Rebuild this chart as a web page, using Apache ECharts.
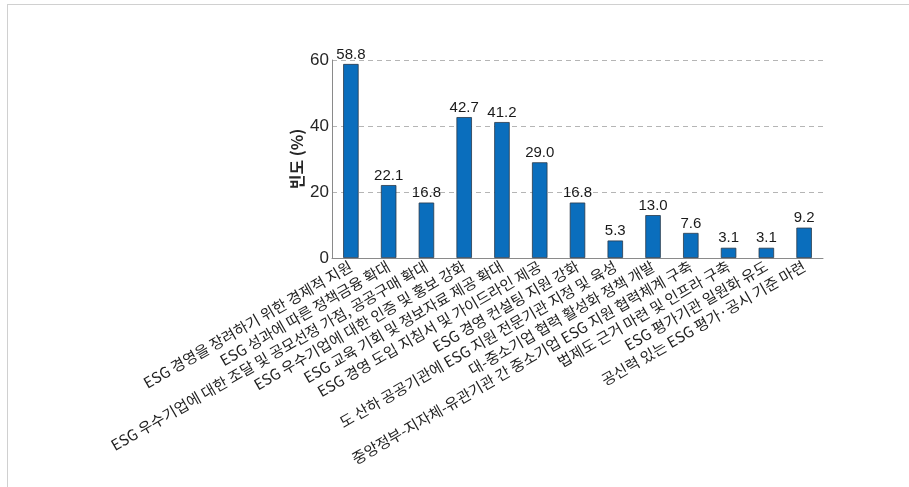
<!DOCTYPE html>
<html><head><meta charset="utf-8">
<script src="https://cdn.jsdelivr.net/npm/echarts@6/dist/echarts.min.js"></script>
<style>html,body{margin:0;padding:0;background:#fff}#c{width:909px;height:487px}</style>
</head><body><div id="c"></div>
<script>
const categories = [
  'ESG 경영을 장려하기 위한 경제적 지원',
  'ESG 성과에 따른 정책금융 확대',
  'ESG 우수기업에 대한 조달 및 공모선정 가점, 공공구매 확대',
  'ESG 우수기업에 대한 인증 및 홍보 강화',
  'ESG 교육 기회 및 정보자료 제공 확대',
  'ESG 경영 도입 지침서 및 가이드라인 제공',
  'ESG 경영 컨설팅 지원 강화',
  '도 산하 공공기관에 ESG 지원 전문기관 지정 및 육성',
  '대-중소기업 협력 활성화 정책 개발',
  '중앙정부-지자체-유관기관 간 중소기업 ESG 지원 협력체계 구축',
  '법제도 근거 마련 및 인프라 구축',
  'ESG 평가기관 일원화 유도',
  '공신력 있는 ESG 평가·공시 기준 마련'
];
const values = [58.8, 22.1, 16.8, 42.7, 41.2, 29.0, 16.8, 5.3, 13.0, 7.6, 3.1, 3.1, 9.2];
const yTicks = [0, 20, 40, 60];

const chart = echarts.init(document.getElementById('c'));
chart.setOption({
  animation: false,
  graphic: [
    {type:'line', shape:{x1:7,y1:4.5,x2:909,y2:4.5}, style:{stroke:'#d0d0d0', lineWidth:1}},
    {type:'line', shape:{x1:7.5,y1:4,x2:7.5,y2:487}, style:{stroke:'#d0d0d0', lineWidth:1}}
  ],
  grid: {left: 332, right: 86, top: 60, bottom: 229, containLabel: false},
  xAxis: {
    type: 'category',
    data: categories,
    axisLine: {lineStyle: {color: '#8a8a8a', width: 1}},
    axisTick: {show: false},
    axisLabel: {
      interval: 0, rotate: 30, margin: 7,
      fontFamily: 'Noto Sans CJK KR', fontSize: 15, color: '#1f1f1f'
    }
  },
  yAxis: {
    type: 'value', min: yTicks[0], max: yTicks[yTicks.length-1], interval: 20,
    name: '빈도 (%)', nameLocation: 'middle', nameGap: 27, nameMoveOverlap: false,
    nameTextStyle: {fontFamily: 'Noto Sans CJK KR', fontSize: 16, fontWeight: 'bold', color: '#262626'},
    axisLine: {show: true, lineStyle: {color: '#8a8a8a', width: 1}},
    axisTick: {show: false},
    axisLabel: {fontFamily: 'Liberation Sans', fontSize: 17, color: '#262626', margin: 3},
    splitLine: {show: true, lineStyle: {type: [5, 4], color: '#b5b5b5', width: 1}}
  },
  series: [{
    type: 'bar',
    data: values,
    barWidth: '41%',
    itemStyle: {color: '#0A6EBD', borderColor: '#2b3a4a', borderWidth: 0.8},
    label: {
      show: true, position: 'top', distance: 2,
      formatter: p => p.value.toFixed(1),
      fontFamily: 'Liberation Sans', fontSize: 15, color: '#1a1a1a'
    }
  }]
});
</script></body></html>
